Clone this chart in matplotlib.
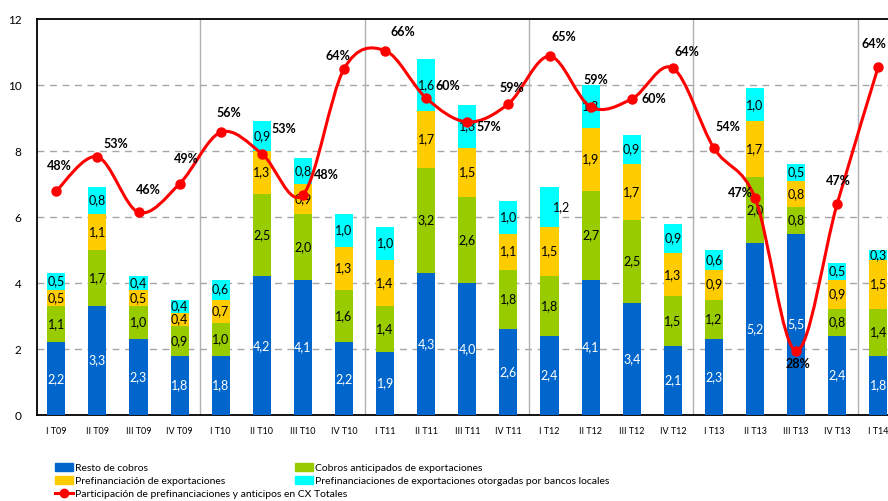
import numpy as np
import matplotlib.pyplot as plt
from matplotlib.path import Path
from matplotlib.patches import PathPatch, Patch
from matplotlib.lines import Line2D

plt.rcParams['font.family'] = ['Lato', 'DejaVu Sans']

quarters = ['I T09', 'II T09', 'III T09', 'IV T09', 'I T10', 'II T10', 'III T10', 'IV T10',
            'I T11', 'II T11', 'III T11', 'IV T11', 'I T12', 'II T12', 'III T12', 'IV T12',
            'I T13', 'II T13', 'III T13', 'IV T13', 'I T14']

resto = [2.2, 3.3, 2.3, 1.8, 1.8, 4.2, 4.1, 2.2, 1.9, 4.3, 4.0, 2.6, 2.4, 4.1, 3.4, 2.1,
         2.3, 5.2, 5.5, 2.4, 1.8]
anticipados = [1.1, 1.7, 1.0, 0.9, 1.0, 2.5, 2.0, 1.6, 1.4, 3.2, 2.6, 1.8, 1.8, 2.7, 2.5, 1.5,
               1.2, 2.0, 0.8, 0.8, 1.4]
prefin = [0.5, 1.1, 0.5, 0.4, 0.7, 1.3, 0.9, 1.3, 1.4, 1.7, 1.5, 1.1, 1.5, 1.9, 1.7, 1.3,
          0.9, 1.7, 0.8, 0.9, 1.5]
bancos = [0.5, 0.8, 0.4, 0.4, 0.6, 0.9, 0.8, 1.0, 1.0, 1.6, 1.3, 1.0, 1.2, 1.3, 0.9, 0.9,
          0.6, 1.0, 0.5, 0.5, 0.3]

# participacion (%) - right axis, hidden
particip = [48.3, 52.6, 45.6, 49.2, 55.7, 53.0, 47.8, 63.7, 66.0, 60.0, 57.0, 59.3, 65.3, 58.9,
            59.9, 63.8, 53.7, 47.4, 28.1, 46.7, 64.0]

# label offsets for the % labels (pixels)
lbl_off = [(3, 25), (18, 13), (10, 22), (7, 25), (8, 19), (22, 25), (23, 20), (-6, 13),
           (18, 19), (22, 12), (22, -5), (3, 16), (14, 19), (5, 27), (22, 0), (14, 16),
           (14, 21), (-15, 5), (2, -13), (1, 23), (-4, 23)]

series = [resto, anticipados, prefin, bancos]
colors = ['#0066CC', '#99CC00', '#FFCC00', '#00FFFF']
names = ['Resto de cobros', 'Cobros anticipados de exportaciones',
         'Prefinanciación de exportaciones',
         'Prefinanciaciones de exportaciones otorgadas por bancos locales']
line_name = 'Participación de prefinanciaciones y anticipos en CX Totales'

fig = plt.figure(figsize=(8.88, 5.01), dpi=100)
ax = fig.add_axes([37/888, 86/501, 866/888, 396/501])

x = np.arange(len(quarters))
bottom = np.zeros(len(quarters))
for vals, col in zip(series, colors):
    vals = np.array(vals)
    ax.bar(x, vals, 0.44, bottom=bottom, color=col, zorder=3)
    for xi, b, v in zip(x, bottom, vals):
        txtcol = 'white' if col == '#0066CC' else 'black'
        dx = 0.3 if (col == '#00FFFF' and xi == 12) else 0
        ax.text(xi + dx, b + v / 2, f'{v:.1f}'.replace('.', ','), ha='center', va='center',
                fontsize=9, color=txtcol, zorder=4)
    bottom += vals

ax.set_xlim(-0.47, 20.6)
ax.set_ylim(0, 12)
ax.set_yticks(range(0, 13, 2))
ax.set_xticks(x)
ax.set_xticklabels(quarters, fontsize=6.5)
ax.tick_params(axis='both', length=0)
ax.tick_params(axis='y', pad=11, labelsize=8.5)
ax.tick_params(axis='x', pad=9)
for yy in range(2, 12, 2):
    ax.axhline(yy, color='#A6A6A6', lw=1, ls=(0, (5, 4)), zorder=1)
for sep in [3.5, 7.5, 11.5, 15.5, 19.5]:
    ax.axvline(sep, color='#B0B0B0', lw=1, zorder=1)
for s in ['left', 'bottom', 'top']:
    ax.spines[s].set_linewidth(1.3)
ax.spines['right'].set_visible(False)

# smoothed line on hidden secondary axis
ax2 = ax.twinx()
ax2.set_ylim(20, 70)
ax2.set_yticks([])
for s in ax2.spines.values():
    s.set_visible(False)

pts = np.column_stack([x, particip]).astype(float)
n = len(pts)
verts = [pts[0]]
codes = [Path.MOVETO]
for i in range(n - 1):
    p_prev = pts[max(i - 1, 0)]
    p_next2 = pts[min(i + 2, n - 1)]
    c1 = pts[i] + (pts[i + 1] - p_prev) / 6
    c2 = pts[i + 1] - (p_next2 - pts[i]) / 6
    verts += [c1, c2, pts[i + 1]]
    codes += [Path.CURVE4] * 3
ax2.add_patch(PathPatch(Path(verts, codes), facecolor='none', edgecolor='#FF0000', lw=2.2, zorder=5))
ax2.plot(x, particip, 'o', color='#FF0000', ms=6.5, zorder=6)

for xi, p, off in zip(x, particip, lbl_off):
    ax2.annotate(f'{round(p)}%', (xi, p), xytext=(off[0], off[1]), textcoords='offset pixels',
                 ha='center', va='center', fontsize=9, fontweight='bold', zorder=7,
                 annotation_clip=False)

# legend in two blocks
h = [Patch(color=c) for c in colors]
hl = Line2D([], [], color='#FF0000', lw=2.2, marker='o', ms=6)
kw = dict(frameon=False, fontsize=7.5, handlelength=1.7, handleheight=0.8,
          handletextpad=0.2, labelspacing=0.35, borderpad=0, borderaxespad=0, loc='upper left')
fig.legend([h[0], h[2], hl], [names[0], names[2], line_name],
           bbox_to_anchor=(55/888, 1 - 463/501), **kw)
fig.legend([h[1], h[3]], [names[1], names[3]],
           bbox_to_anchor=(295/888, 1 - 463/501), **kw)

fig.savefig('out.png', dpi=100)
